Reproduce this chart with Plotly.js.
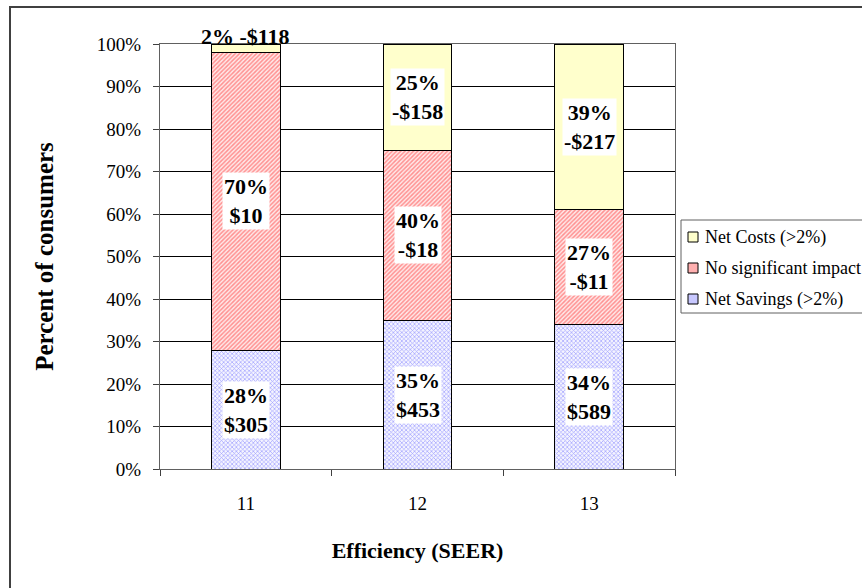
<!DOCTYPE html>
<html>
<head>
<meta charset="utf-8">
<script src="https://cdn.plot.ly/plotly-3.0.1.min.js"></script>
<style>
html,body{margin:0;padding:0;background:#fff;}
#chart{width:862px;height:588px;}
</style>
</head>
<body>
<div id="chart"></div>
<script>
// ---- data ----
var categories = ['11', '12', '13'];
var savingsPct = [28, 35, 34];
var savingsAmt = ['$305', '$453', '$589'];
var noImpactPct = [70, 40, 27];
var noImpactAmt = ['$10', '-$18', '-$11'];
var costsPct = [2, 25, 39];
var costsAmt = ['-$118', '-$158', '-$217'];
var seriesNames = ['Net Savings (>2%)', 'No significant impact', 'Net Costs (>2%)'];

var FONT = 'Liberation Serif, Times New Roman, Times, serif';

// plot-area geometry (pixels) for placing non-data decorations
var PL = 160, PR = 675, PT = 44, PB = 469;
function px(xp) { return (xp - PL) / (PR - PL); }
function py(yp) { return 1 - (yp - PT) / (PB - PT); }

var styles = [
  {color: '#9999FF', line: {color: '#000', width: 1},
   pattern: {shape: 'x', fgcolor: '#A0A0FF', bgcolor: '#F4F4FF', size: 3, solidity: 0.4}},
  {color: '#FF8080', line: {color: '#000', width: 1},
   pattern: {shape: '/', fgcolor: '#FF9090', bgcolor: '#FFEAEA', size: 3, solidity: 0.5}},
  {color: '#FFFFCC', line: {color: '#000', width: 1}}
];
var legendFill = ['#C8C8FF', '#FFB0B0', '#FFFFCC'];
var seriesVals = [savingsPct, noImpactPct, costsPct];
var seriesAmts = [savingsAmt, noImpactAmt, costsAmt];

var traces = [];
for (var s = 0; s < 3; s++) {
  traces.push({
    type: 'bar', name: seriesNames[s], x: categories, y: seriesVals[s],
    width: 0.4, marker: styles[s], hoverinfo: 'skip', showlegend: false
  });
}

// data labels at segment midpoints
var annotations = [];
for (var i = 0; i < categories.length; i++) {
  var base = 0;
  for (var s2 = 0; s2 < 3; s2++) {
    var v = seriesVals[s2][i], amt = seriesAmts[s2][i];
    if (v < 5) {
      annotations.push({
        x: i, y: base + v, xref: 'x', yref: 'y',
        text: v + '% ' + amt, showarrow: false, yanchor: 'bottom', yshift: -7,
        font: {family: FONT, size: 22, color: '#000', weight: 'bold'}
      });
    } else {
      annotations.push({
        x: i, y: base + v / 2, xref: 'x', yref: 'y',
        text: v + '%<br>' + amt, showarrow: false,
        font: {family: FONT, size: 22, color: '#000', weight: 'bold'},
        bgcolor: '#FFFFFF', borderpad: 1
      });
    }
    base += v;
  }
}

// legend (drawn as box + swatches + texts), order: Net Costs, No impact, Net Savings
var shapes = [
  // outer chart border
  {type: 'rect', xref: 'paper', yref: 'paper', layer: 'above',
   x0: px(10), x1: px(880), y0: py(600), y1: py(7),
   line: {color: '#404040', width: 2}, fillcolor: 'rgba(0,0,0,0)'},
  // legend box
  {type: 'rect', xref: 'paper', yref: 'paper', layer: 'above',
   x0: px(681), x1: px(880), y0: py(313), y1: py(220),
   line: {color: '#606060', width: 1}, fillcolor: '#FFFFFF'}
];
var rowsY = [237, 268, 299];
for (var k = 0; k < 3; k++) {
  var si = 2 - k;
  shapes.push({type: 'rect', xref: 'paper', yref: 'paper', layer: 'above',
    x0: px(688), x1: px(698), y0: py(rowsY[k] + 5), y1: py(rowsY[k] - 5),
    line: {color: '#000', width: 1}, fillcolor: legendFill[si]});
  annotations.push({
    xref: 'paper', yref: 'paper', x: px(703), y: py(rowsY[k]),
    xanchor: 'left', yanchor: 'middle', showarrow: false,
    text: seriesNames[si],
    font: {family: FONT, size: 18, color: '#000'}
  });
}

var layout = {
  width: 862, height: 588,
  margin: {l: PL, r: 862 - PR, t: PT, b: 588 - PB},
  paper_bgcolor: '#FFFFFF', plot_bgcolor: '#FFFFFF',
  barmode: 'stack',
  showlegend: false,
  font: {family: FONT, color: '#000', size: 19},
  xaxis: {
    type: 'category',
    showline: true, linecolor: '#606060', linewidth: 1, mirror: true,
    ticks: 'outside', ticklen: 6, tickcolor: '#404040',
    tickson: 'boundaries',
    showgrid: false,
    tickfont: {family: FONT, size: 19, color: '#000'},
    ticklabelstandoff: 17,
    title: {text: 'Efficiency (SEER)', font: {family: FONT, size: 22, color: '#000', weight: 'bold'}, standoff: 29},
    fixedrange: true
  },
  yaxis: {
    range: [0, 100], dtick: 10, ticksuffix: '%',
    showline: true, linecolor: '#606060', linewidth: 1, mirror: true,
    ticks: 'outside', ticklen: 6, tickcolor: '#404040',
    showgrid: true, gridcolor: '#000000', gridwidth: 1,
    zeroline: false,
    tickfont: {family: FONT, size: 19, color: '#000'},
    ticklabelstandoff: 8,
    title: {text: 'Percent of consumers', font: {family: FONT, size: 25, color: '#000', weight: 'bold'}, standoff: 36},
    fixedrange: true
  },
  annotations: annotations,
  shapes: shapes
};

Plotly.newPlot('chart', traces, layout, {displayModeBar: false, staticPlot: true});
</script>
</body>
</html>
